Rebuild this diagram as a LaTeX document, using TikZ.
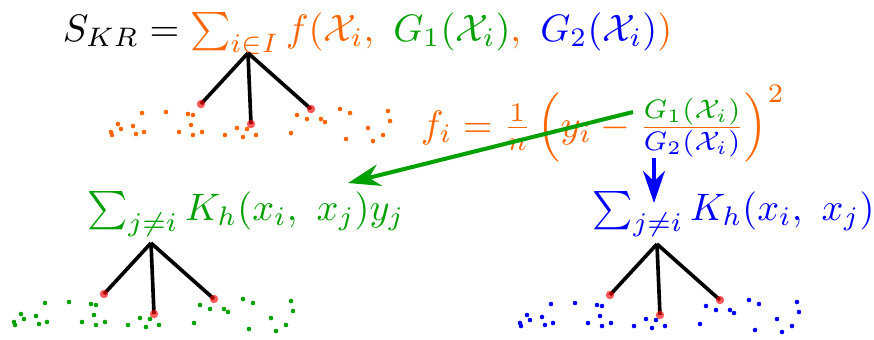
\documentclass[tikz,border=0pt]{standalone}
\usepackage{amsmath}
\usepackage{amsfonts}
\usepackage{tikz}
\usetikzlibrary{arrows.meta,calc}

\definecolor{myorange}{RGB}{255,102,0}
\definecolor{mygreen}{RGB}{0,160,0}
\definecolor{myblue}{RGB}{0,0,255}

\begin{document}
\begin{tikzpicture}[x=0.2612pt,y=-0.2612pt,>={Stealth[length=8.4pt,width=5.7pt]}]
			\tikzstyle{formula}=[inner sep=0pt,anchor=base west]
			\tikzstyle{branch}=[line width=0.95pt]
			\tikzstyle{hit}=[red,opacity=0.65]
			\tikzstyle{link}=[line width=1.05pt,->]

			\newcommand{\PointCloud}[2]{
				\foreach \dx/\dy in {-137/79, -136/82, -130/71, -127/76, -115/73, -112/81, -104/79, -106/60, -82/59, -69/79, -60/61, -55/62, -57/72, -55/82, -46/79, -23/82, -11/75, -5/84, -1/76, 8/82, 43/80, 49/62, 59/66, 73/66, 77/69, 92/56, 102/60, 120/75, 125/88, 135/82, 140/58, 142/68, 98/86}
					\fill [#1] ($(#2)+(\dx,\dy)$) circle (0.6pt);
				\foreach \n/\dx/\dy in {1/-47/51, 2/3/71, 3/63/56} {
					\coordinate (#2-\n) at ($(#2)+(\dx,\dy)$);
					\draw [branch] (#2) -- (#2-\n);
					\fill [hit] (#2-\n) circle (1.1pt);
				}
			}

			\useasboundingbox (0,0) rectangle (874,339);

			\node (top) [formula] at (62,41) {$S_{KR} = {\color{myorange}\sum_{i\in I} f(\mathcal{X}_i,\ {\color{mygreen}G_1(\mathcal{X}_i)},\ {\color{myblue}G_2(\mathcal{X}_i)})}$};

			\node (fi) [formula, text=myorange] at (420,137) {$f_i = \frac{1}{n}\left(y_i - \frac{\color{mygreen}G_1(\mathcal{X}_i)}{\color{myblue}G_2(\mathcal{X}_i)}\right)^2$};

			\node (gsum) [formula, text=mygreen] at (87,220) {$\sum_{j\neq i} K_h(x_i,\ x_j)y_j$};
			\node (bsum) [formula, text=myblue] at (592,220) {$\sum_{j\neq i} K_h(x_i,\ x_j)$};

			\coordinate (oroot) at ($(top.base west)+(186,12)$);
			\coordinate (groot) at ($(gsum.base west)+(64,23)$);
			\coordinate (broot) at ($(bsum.base west)+(65,24)$);

			\PointCloud{myorange}{oroot}
			\PointCloud{mygreen}{groot}
			\PointCloud{myblue}{broot}

			\coordinate (gtail) at ($(fi.base west)+(213,-25)$);
			\coordinate (ghead) at ($(gsum.base west)+(261,-37)$);
			\draw [link, mygreen] (gtail) -- (ghead);

			\coordinate (btail) at ($(fi.base west)+(234,21)$);
			\coordinate (bhead) at ($(bsum.base west)+(62,-17)$);
			\draw [link, myblue] (btail) -- (bhead);
		\end{tikzpicture}
\end{document}
